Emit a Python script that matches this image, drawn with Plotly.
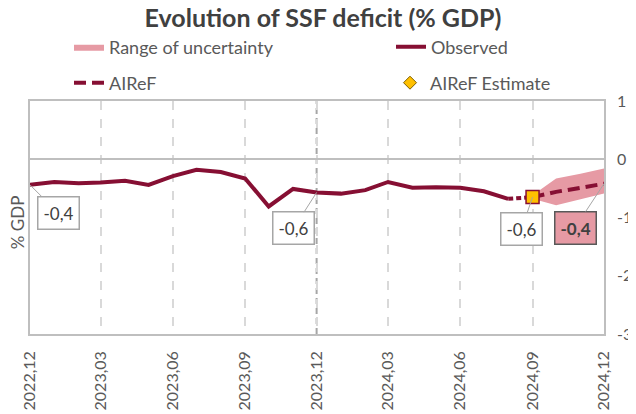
import plotly.graph_objects as go
import pandas as pd

# ---------------- data ----------------
obs_dates = pd.date_range("2022-12-01", "2024-08-01", freq="MS")
observed = [-0.44, -0.39, -0.41, -0.40, -0.37, -0.44, -0.29, -0.18, -0.22, -0.33,
            -0.81, -0.51, -0.57, -0.59, -0.53, -0.39, -0.49, -0.48, -0.49, -0.55,
            -0.68]

# short dotted bridge between last observation and first estimate
bridge_dates = ["2024-08-01", "2024-09-01"]
bridge = [-0.68, -0.65]

airef_dates = pd.date_range("2024-09-01", "2024-12-01", freq="MS")
airef = [-0.65, -0.56, -0.49, -0.42]

band_dates = pd.date_range("2024-09-01", "2024-12-01", freq="MS")
band_low = [-0.68, -0.79, -0.69, -0.59]
band_high = [-0.62, -0.33, -0.25, -0.16]

est_date = ["2024-09-01"]
est_value = [-0.65]

tick_dates = pd.date_range("2022-12-01", "2024-12-01", freq="3MS")
tick_labels = ["2022,12", "2023,03", "2023,06", "2023,09", "2023,12",
               "2024,03", "2024,06", "2024,09", "2024,12"]
y_ticks = [1, 0, -1, -2, -3]
y_labels = ["1", "0", "-1", "-2", "-3"]

# labelled points: (date, value, text, ax, ay, bold)
labels = [
    ("2022-12-01", observed[0], "-0,4", 28, 28, False),
    ("2023-12-01", observed[12], "-0,6", -23, 36, False),
    ("2024-09-01", est_value[0], "-0,6", -11, 32, False),
    ("2024-12-01", airef[-1], "-0,4", -29, 44, True),
]

MAROON = "#860F33"
PINK = "#E69AA4"
GREY_TXT = "#404040"
FONT = "Lato"
W, H = 636, 414
OFF = 8  # page body margin offset

fig = go.Figure()

# uncertainty band
fig.add_trace(go.Scatter(
    x=list(band_dates) + list(band_dates[::-1]),
    y=band_high + band_low[::-1],
    fill="toself", fillcolor=PINK, line=dict(width=0), mode="lines",
    name="Range of uncertainty", legend="legend", hoverinfo="skip"))

# observed
fig.add_trace(go.Scatter(
    x=obs_dates, y=observed, mode="lines",
    line=dict(color=MAROON, width=4), name="Observed", legend="legend2"))

# dotted bridge
fig.add_trace(go.Scatter(
    x=bridge_dates, y=bridge, mode="lines",
    line=dict(color=MAROON, width=4, dash="5px,3px"), showlegend=False))

# AIReF dashed
fig.add_trace(go.Scatter(
    x=airef_dates, y=airef, mode="lines",
    line=dict(color=MAROON, width=4, dash="12px,6px"), name="AIReF",
    legend="legend3"))

# estimate marker (chart)
fig.add_trace(go.Scatter(
    x=est_date, y=est_value, mode="markers",
    marker=dict(symbol="square", size=13, color="#FFC000",
                line=dict(color=MAROON, width=1.5)),
    showlegend=False))

# estimate legend entry
fig.add_trace(go.Scatter(
    x=[None], y=[None], mode="markers",
    marker=dict(symbol="diamond", size=10, color="#FFC000",
                line=dict(color="#7F6000", width=1)),
    name="AIReF Estimate", legend="legend4"))

for d, v, t, ax, ay, bold in labels:
    fig.add_annotation(
        x=d, y=v, text=f"<b>{t}</b>" if bold else t,
        showarrow=True, arrowhead=0, arrowwidth=1, arrowcolor="#A6A6A6",
        ax=ax, ay=ay, font=dict(family=FONT, size=17, color=GREY_TXT),
        bgcolor=PINK if bold else "white",
        bordercolor="#595959" if bold else "#A6A6A6",
        borderwidth=1.5, borderpad=5)

# darker dashed separator at 2023-12
fig.add_shape(type="line", xref="x", yref="paper", x0="2023-12-01", x1="2023-12-01",
              y0=0, y1=1, line=dict(color="#A6A6A6", width=2, dash="6px,4px"),
              layer="below")

# y-axis title on left
fig.add_annotation(text="% GDP", xref="paper", yref="paper", x=0, y=0.48,
                   xanchor="center", yanchor="middle",
                   xshift=-13, showarrow=False, textangle=-90,
                   font=dict(family=FONT, size=17, color="#595959"))


def leg(xpx, ypx):
    return dict(orientation="h", xref="container", yref="container",
                x=(xpx - OFF) / W, y=1 - (ypx - OFF) / H, yanchor="middle",
                xanchor="left",
                font=dict(family=FONT, size=18, color="#595959"),
                bgcolor="rgba(0,0,0,0)")


fig.update_layout(
    width=W, height=H,
    margin=dict(l=30 - OFF, r=W - (604 - OFF), t=101 - OFF, b=H - (334 - OFF),
                autoexpand=False),
    paper_bgcolor="white", plot_bgcolor="white",
    font=dict(family=FONT, size=16, color="#595959"),
    title=dict(text="<b>Evolution of SSF deficit (% GDP)</b>", x=(323 - OFF) / W,
               xanchor="center", y=1 - (18 - OFF) / H, yanchor="middle",
               font=dict(family=FONT, size=25, color=GREY_TXT)),
    showlegend=True,
    legend=leg(69, 47),
    legend2=leg(391, 47),
    legend3=leg(69, 83),
    legend4=leg(390, 83),
    xaxis=dict(range=["2022-12-01", "2024-12-01"], tickvals=tick_dates,
               ticktext=tick_labels, tickangle=-90, showgrid=True,
               gridcolor="#D9D9D9", griddash="dash", gridwidth=1.5,
               showline=True, linecolor="#BFBFBF", linewidth=1.5, mirror=True,
               ticks="outside", ticklen=9, tickcolor="rgba(0,0,0,0)",
               tickfont=dict(family=FONT, size=16, color="#595959"),
               automargin=False, zeroline=False),
    yaxis=dict(range=[-3, 1], side="right", tickvals=y_ticks, ticktext=y_labels,
               showgrid=False, zeroline=True, zerolinecolor="#BFBFBF",
               zerolinewidth=1.5, showline=True, linecolor="#BFBFBF",
               linewidth=1.5, mirror=True, ticks="outside", ticklen=8,
               tickcolor="rgba(0,0,0,0)",
               tickfont=dict(family=FONT, size=16, color="#595959"),
               automargin=False),
)

fig.write_html("out.html")
